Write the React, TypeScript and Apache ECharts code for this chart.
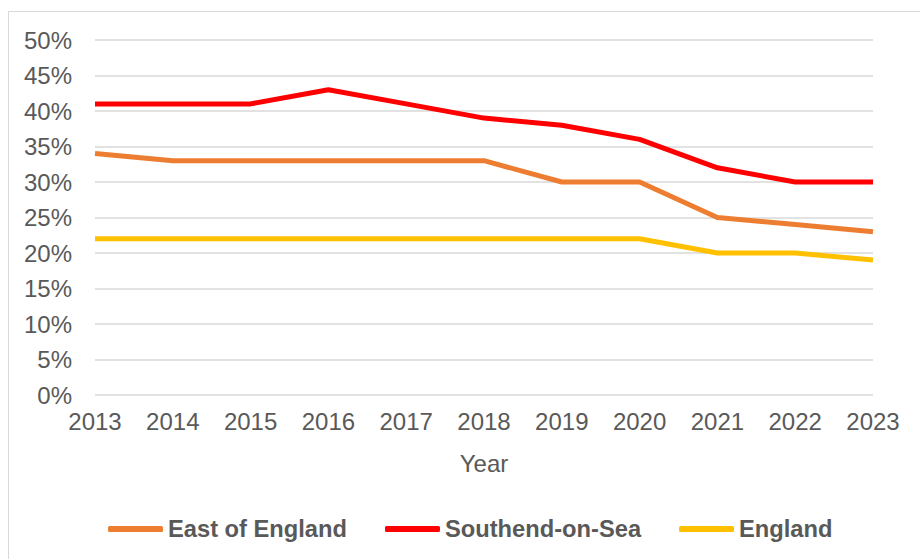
import React, { useEffect, useRef } from "react";
import * as echarts from "echarts";

const years = ["2013", "2014", "2015", "2016", "2017", "2018", "2019", "2020", "2021", "2022", "2023"];
const eastOfEngland = [34, 33, 33, 33, 33, 33, 30, 30, 25, 24, 23];
const southend = [41, 41, 41, 43, 41, 39, 38, 36, 32, 30, 30];
const england = [22, 22, 22, 22, 22, 22, 22, 22, 20, 20, 19];

const FONT = "Liberation Sans, Arial, sans-serif";
const GREY = "#595959";

export default function App() {
  const ref = useRef<HTMLDivElement>(null);
  useEffect(() => {
    if (!ref.current) return;
    const chart = echarts.init(ref.current, undefined, { renderer: "svg" });
    const mk = (name: string, data: number[], color: string) => ({
      name,
      type: "line",
      data,
      symbol: "none",
      lineStyle: { color, width: 5, join: "round" },
      itemStyle: { color },
    });
    chart.setOption({
      animation: false,
      backgroundColor: "#ffffff",
      graphic: [
        {
          type: "rect",
          shape: { x: 8.5, y: 11.5, width: 1000, height: 1000 },
          style: { fill: "none", stroke: "#d9d9d9", lineWidth: 1 },
          silent: true,
        },
      ],
      grid: { left: 95, right: 47, top: 40, bottom: 164 },
      legend: {
        left: 108,
        top: 517,
        padding: 0,
        icon: "roundRect",
        itemWidth: 55,
        itemHeight: 6,
        itemGap: 38,
        textStyle: { fontFamily: FONT, fontSize: 23.7, fontWeight: "bold", color: GREY },
        data: ["East of England", "Southend-on-Sea", "England"],
      },
      xAxis: {
        type: "category",
        data: years,
        boundaryGap: false,
        name: "Year",
        nameLocation: "middle",
        nameGap: 56,
        nameTextStyle: { fontFamily: FONT, fontSize: 24, color: GREY },
        axisLine: { show: false },
        axisTick: { show: false },
        axisLabel: { fontFamily: FONT, fontSize: 24, color: GREY, margin: 14 },
      },
      yAxis: {
        type: "value",
        min: 0,
        max: 50,
        interval: 5,
        axisLine: { show: false },
        axisTick: { show: false },
        axisLabel: { fontFamily: FONT, fontSize: 24, color: GREY, margin: 23, formatter: "{value}%" },
        splitLine: { lineStyle: { color: "#d9d9d9", width: 1.5 } },
      },
      series: [
        mk("East of England", eastOfEngland, "#ED7D31"),
        mk("Southend-on-Sea", southend, "#FF0000"),
        mk("England", england, "#FFC000"),
      ],
    });
    return () => chart.dispose();
  }, []);
  return (
    <div
      ref={ref}
      style={{ position: "fixed", left: 0, top: 0, width: 920, height: 559 }}
    />
  );
}
